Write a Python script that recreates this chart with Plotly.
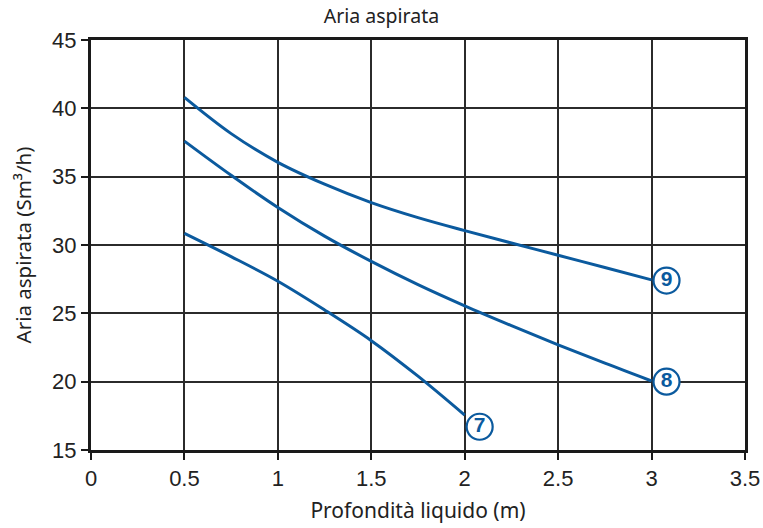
import plotly.graph_objects as go

depth_9 = [0.5, 0.75, 1.0, 1.25, 1.5, 1.75, 2.0, 2.25, 2.5, 2.75, 3.0]
air_9 = [40.8, 38.15, 36.05, 34.45, 33.1, 32.0, 31.05, 30.15, 29.25, 28.35, 27.45]
depth_8 = [0.5, 0.75, 1.0, 1.25, 1.5, 1.75, 2.0, 2.25, 2.5, 2.75, 3.0]
air_8 = [37.6, 35.1, 32.75, 30.65, 28.8, 27.1, 25.55, 24.1, 22.7, 21.35, 20.05]
depth_7 = [0.5, 0.75, 1.0, 1.25, 1.5, 1.75, 2.0]
air_7 = [30.85, 29.15, 27.35, 25.25, 23.0, 20.4, 17.55]

label_x = [3.08, 3.08, 2.08]
label_y = [27.4, 20.0, 16.7]
label_digits = ["9", "8", "7"]

x_ticks = [0, 0.5, 1, 1.5, 2, 2.5, 3, 3.5]
x_tick_text = ["0", "0.5", "1", "1.5", "2", "2.5", "3", "3.5"]
y_ticks = [15, 20, 25, 30, 35, 40, 45]

BLUE = "#0b5a9e"

fig = go.Figure()
for xs, ys in [(depth_9, air_9), (depth_8, air_8), (depth_7, air_7)]:
    fig.add_trace(go.Scatter(x=xs, y=ys, mode="lines",
                             line=dict(color=BLUE, width=3, shape="spline", smoothing=1.0),
                             showlegend=False, hoverinfo="skip", cliponaxis=False))

fig.add_trace(go.Scatter(
    x=label_x, y=label_y, mode="markers+text", text=label_digits,
    textposition="middle center",
    textfont=dict(family="Liberation Sans", size=21, color=BLUE, weight="bold"),
    marker=dict(symbol="circle", size=26, color="white", line=dict(color=BLUE, width=2.2)),
    showlegend=False, hoverinfo="skip", cliponaxis=False))

axis_common = dict(
    showgrid=True, gridcolor="#2b2b2b", gridwidth=1.8,
    showline=True, linecolor="#1a1a1a", linewidth=3, mirror=True,
    ticks="outside", ticklen=7, tickcolor="#1a1a1a", tickwidth=1.5,
    tickfont=dict(family="Liberation Sans", size=22, color="#222222"),
    zeroline=False, automargin=False,
)

fig.update_layout(
    width=763, height=528,
    margin=dict(l=91, r=18, t=40, b=78),
    paper_bgcolor="white", plot_bgcolor="white",
    title=dict(text="Aria aspirata", x=0.5, xref="container", xanchor="center",
               y=0.982, yref="container", yanchor="top",
               font=dict(family="Noto Sans", size=19.5, color="#222222")),
    xaxis=dict(range=[0, 3.5], tickvals=x_ticks, ticktext=x_tick_text,
               title=dict(text="Profondità liquido (m)", standoff=13,
                          font=dict(family="Noto Sans", size=21, color="#222222")),
               **axis_common),
    yaxis=dict(range=[15, 45], tickvals=y_ticks,
               title=dict(text="Aria aspirata (Sm³/h)", standoff=15,
                          font=dict(family="Noto Sans", size=20.5, color="#222222")),
               **axis_common),
)

fig.write_html(
    "out.html",
    config={"displayModeBar": False},
    post_script="document.body.style.margin='0';document.documentElement.style.overflow='hidden';",
)
